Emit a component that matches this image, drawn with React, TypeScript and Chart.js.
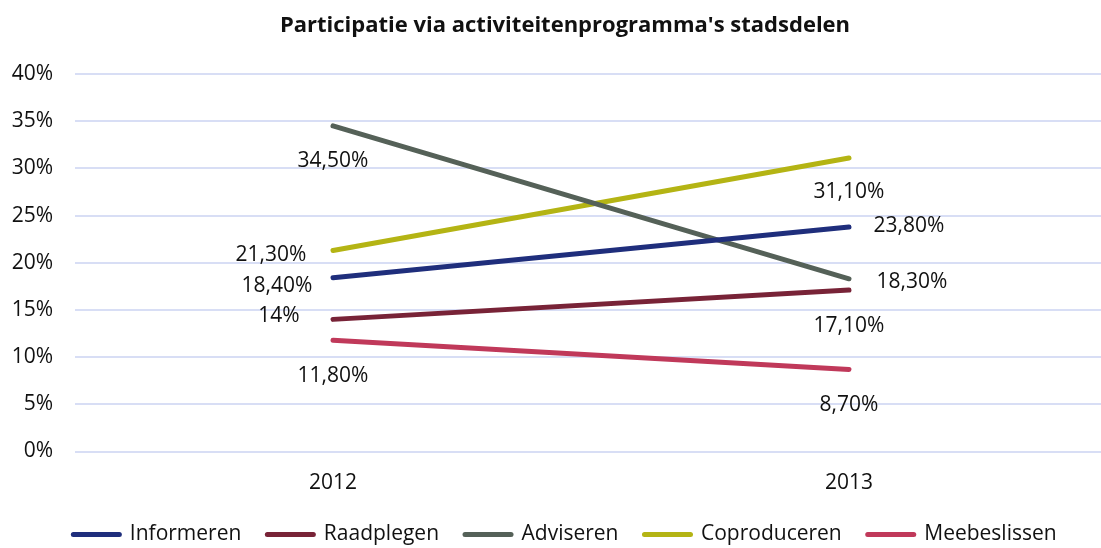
import React, { useEffect, useRef } from "react";
import { Chart, registerables } from "chart.js";

Chart.register(...registerables);

const categories = ["2012", "2013"];
const seriesNames = ["Informeren", "Raadplegen", "Adviseren", "Coproduceren", "Meebeslissen"];
const informeren = [18.4, 23.8];
const raadplegen = [14, 17.1];
const adviseren = [34.5, 18.3];
const coproduceren = [21.3, 31.1];
const meebeslissen = [11.8, 8.7];
const valueLabels = [
  ["18,40%", "23,80%"],
  ["14%", "17,10%"],
  ["34,50%", "18,30%"],
  ["21,30%", "31,10%"],
  ["11,80%", "8,70%"],
];
const yTicks = [0, 5, 10, 15, 20, 25, 30, 35, 40];

const colors = ["#1f2e7c", "#782337", "#556158", "#b4b414", "#c0395a"];
// label centre offsets relative to each point (style only)
const labelOffsets = [
  [[-56, 7], [60, -2]],
  [[-54, -5], [0, 34]],
  [[0, 34], [63, 2]],
  [[-62, 3], [0, 33]],
  [[0, 34], [0, 34]],
];

const FONT = "'Open Sans', 'Noto Sans', sans-serif";
const TEXT = "#111111";

const dataLabelPlugin = {
  id: "dataLabels",
  afterDatasetsDraw(chart: any) {
    const ctx = chart.ctx;
    ctx.save();
    ctx.font = `21px ${FONT}`;
    ctx.fillStyle = TEXT;
    ctx.textAlign = "center";
    ctx.textBaseline = "alphabetic";
    chart.data.datasets.forEach((ds: any, di: number) => {
      const meta = chart.getDatasetMeta(di);
      meta.data.forEach((pt: any, i: number) => {
        const [dx, dy] = labelOffsets[di][i];
        ctx.fillText(valueLabels[di][i], pt.x + dx, pt.y + dy + 7.5);
      });
    });
    ctx.restore();
  },
};

export default function App() {
  const ref = useRef<HTMLCanvasElement>(null);
  useEffect(() => {
    if (!ref.current) return;
    const seriesData = [informeren, raadplegen, adviseren, coproduceren, meebeslissen];
    const chart = new Chart(ref.current, {
      type: "line",
      data: {
        labels: categories,
        datasets: seriesNames.map((name, i) => ({
          label: name,
          data: seriesData[i],
          borderColor: colors[i],
          backgroundColor: colors[i],
          borderWidth: 5,
          borderCapStyle: "round",
          pointRadius: 0,
          pointHoverRadius: 0,
          tension: 0,
          fill: false,
        })),
      },
      options: {
        responsive: false,
        animation: false,
        layout: { padding: { top: 0, right: 27, bottom: -7, left: 23 } },
        plugins: {
          title: {
            display: true,
            text: "Participatie via activiteitenprogramma's stadsdelen",
            color: TEXT,
            font: { family: FONT, size: 22, weight: "bold" },
            padding: { top: 13, bottom: 34.6 },
          },
          legend: {
            position: "bottom",
            labels: {
              usePointStyle: true,
              pointStyle: "line",
              pointStyleWidth: 46,
              padding: 26,
              color: TEXT,
              font: { family: FONT, size: 21 },
              generateLabels: (chart: any) =>
                chart.data.datasets.map((ds: any, i: number) => ({
                  text: ds.label,
                  fillStyle: colors[i],
                  strokeStyle: colors[i],
                  lineWidth: 5,
                  lineCap: "round",
                  pointStyle: "line",
                  hidden: false,
                  datasetIndex: i,
                  fontColor: TEXT,
                })),
            },
          },
          tooltip: { enabled: false },
        },
        scales: {
          x: {
            offset: true,
            grid: { display: false, drawTicks: false },
            border: { display: false },
            ticks: { color: TEXT, font: { family: FONT, size: 21 }, padding: 19 },
            afterFit: (s: any) => {
              s.height = 46.5;
            },
          },
          y: {
            min: 0,
            max: 40,
            afterBuildTicks: (s: any) => {
              s.ticks = yTicks.map((v) => ({ value: v }));
            },
            grid: { color: "#d8def5", lineWidth: 2, drawTicks: false },
            border: { display: false },
            ticks: {
              color: TEXT,
              font: { family: FONT, size: 21 },
              padding: 22,
              callback: (v: any) => `${v}%`,
            },
            afterFit: (s: any) => {
              s.width = 52;
              // let the tick labels extend into the left padding without being clipped
              s._computeLabelArea = () => undefined;
            },
          },
        },
      },
      plugins: [dataLabelPlugin],
    } as any);
    return () => chart.destroy();
  }, []);
  return (
    <div style={{ position: "fixed", left: 0, top: 0, width: 1101, height: 548, overflow: "hidden", background: "#fff" }}>
      <canvas ref={ref} width={1134} height={548} style={{ display: "block" }} />
    </div>
  );
}
